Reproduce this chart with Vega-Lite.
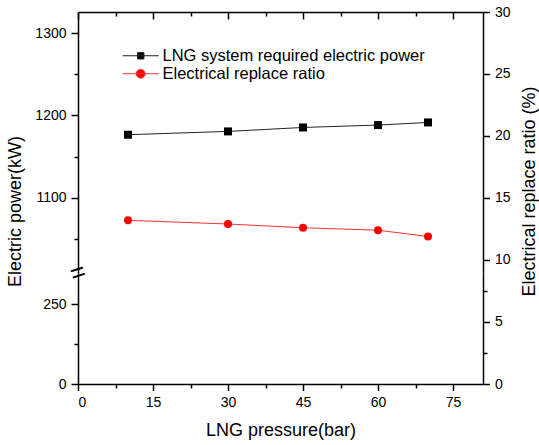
{
  "$schema": "https://vega.github.io/schema/vega-lite/v6.json",
  "autosize": {"type": "pad"},
  "padding": {"left": 6, "top": 5, "right": 4, "bottom": 4},
  "background": "white",
  "bounds": "flush",
  "config": {
    "view": {"stroke": null},
    "font": "Liberation Sans",
    "axis": {
      "domainColor": "black", "domainWidth": 1.5, "tickColor": "black", "tickWidth": 1.5,
      "labelFont": "Liberation Sans", "labelFontSize": 14, "labelColor": "black",
      "titleFont": "Liberation Sans", "titleFontSize": 18, "titleFontWeight": "normal", "titleColor": "black",
      "grid": false, "labelPadding": 5, "format": "d"
    },
    "legend": {
      "title": null, "orient": "none", "legendX": 54.5, "legendY": 35.5, "padding": 0,
      "labelFont": "Liberation Sans", "labelFontSize": 16.5, "labelColor": "black", "labelLimit": 500,
      "labelOffset": 13.5, "rowPadding": 1, "symbolSize": 64, "symbolStrokeWidth": 1, "symbolOpacity": 1
    }
  },
  "datasets": {
    "d": [
      {"pressure": 10, "series": "LNG system required electric power", "value": 1176.6},
      {"pressure": 30, "series": "LNG system required electric power", "value": 1180.6},
      {"pressure": 45, "series": "LNG system required electric power", "value": 1185.4},
      {"pressure": 60, "series": "LNG system required electric power", "value": 1188.3},
      {"pressure": 70, "series": "LNG system required electric power", "value": 1191.5},
      {"pressure": 10, "series": "Electrical replace ratio", "value": 13.2},
      {"pressure": 30, "series": "Electrical replace ratio", "value": 12.9},
      {"pressure": 45, "series": "Electrical replace ratio", "value": 12.6},
      {"pressure": 60, "series": "Electrical replace ratio", "value": 12.4},
      {"pressure": 70, "series": "Electrical replace ratio", "value": 11.9}
    ]
  },
  "spacing": 0,
  "resolve": {"legend": {"color": "independent", "shape": "independent", "stroke": "independent"}},
  "vconcat": [
    {
      "width": 405, "height": 261,
      "data": {"name": "d"},
      "layer": [
        {
          "layer": [
            {
              "transform": [{"filter": "datum.series === 'LNG system required electric power'"}],
              "mark": {"type": "line", "color": "#222222", "strokeWidth": 1},
              "encoding": {
                "x": {"field": "pressure", "type": "quantitative", "scale": {"domain": [0, 81], "nice": false, "zero": false},
                  "axis": {"orient": "top", "values": [0, 7.5, 15, 22.5, 30, 37.5, 45, 52.5, 60, 67.5, 75], "labels": false, "title": null,
                    "tickSize": {"condition": {"test": "datum.value % 15 === 0", "value": -7}, "value": -4}}},
                "y": {"field": "value", "type": "quantitative", "scale": {"domain": [1008.8, 1325.5], "nice": false, "zero": false},
                  "axis": {"orient": "left", "values": [1050, 1100, 1150, 1200, 1250, 1300],
                    "labelExpr": "datum.value % 100 === 0 ? datum.label : ''",
                    "tickSize": {"condition": {"test": "datum.value % 100 === 0", "value": 7}, "value": 4},
                    "title": "Electric power(kW)", "titlePadding": 10, "titleY": 199}}
              }
            },
            {
              "transform": [{"filter": "datum.series === 'LNG system required electric power'"}],
              "mark": {"type": "point", "shape": "square", "filled": true, "size": 64, "opacity": 1},
              "encoding": {
                "x": {"field": "pressure", "type": "quantitative"},
                "y": {"field": "value", "type": "quantitative"},
                "color": {"field": "series", "type": "nominal",
                  "scale": {"domain": ["LNG system required electric power", "Electrical replace ratio"], "range": ["black", "red"]}}
              }
            },
            {
              "mark": {"type": "point", "filled": true, "size": 64, "opacity": 0, "clip": true},
              "encoding": {
                "x": {"field": "pressure", "type": "quantitative"},
                "y": {"field": "value", "type": "quantitative"},
                "color": {"field": "series", "type": "nominal"},
                "stroke": {"field": "series", "type": "nominal",
                  "scale": {"domain": ["LNG system required electric power", "Electrical replace ratio"], "range": ["#222222", "#ff3030"]}},
                "shape": {"field": "series", "type": "nominal",
                  "scale": {"domain": ["LNG system required electric power", "Electrical replace ratio"],
                    "range": ["M-4.5,0H4.5M-0.8,-0.8H0.8V0.8H-0.8Z", "M-4.5,0H4.5M1.1,0A1.1,1.1,0,1,1,-1.1,0A1.1,1.1,0,1,1,1.1,0Z"]}}
              }
            },
            {
              "data": {"values": [{}]},
              "mark": {"type": "text", "text": "=", "font": "Liberation Sans", "fontSize": 26, "angle": -18, "align": "center", "baseline": "middle", "color": "black"},
              "encoding": {
                "x": {"datum": 0, "type": "quantitative"},
                "y": {"datum": 1008.8, "type": "quantitative"}
              }
            }
          ]
        },
        {
          "layer": [
            {
              "transform": [{"filter": "datum.series === 'Electrical replace ratio'"}],
              "mark": {"type": "line", "color": "#ff3030", "strokeWidth": 1},
              "encoding": {
                "x": {"field": "pressure", "type": "quantitative"},
                "y": {"field": "value", "type": "quantitative", "scale": {"domain": [8.95, 30], "nice": false, "zero": false},
                  "axis": {"orient": "right", "values": [10, 12.5, 15, 17.5, 20, 22.5, 25, 27.5, 30],
                    "labelExpr": "datum.value % 5 === 0 ? datum.label : ''",
                    "tickSize": {"condition": {"test": "datum.value % 5 === 0", "value": 6.5}, "value": 4},
                    "title": "Electrical replace ratio (%)", "titleAngle": 270, "titlePadding": 28, "titleY": 179}}
              }
            },
            {
              "transform": [{"filter": "datum.series === 'Electrical replace ratio'"}],
              "mark": {"type": "point", "shape": "circle", "filled": true, "size": 64, "opacity": 1},
              "encoding": {
                "x": {"field": "pressure", "type": "quantitative"},
                "y": {"field": "value", "type": "quantitative"},
                "color": {"field": "series", "type": "nominal"}
              }
            }
          ]
        }
      ],
      "resolve": {"scale": {"y": "independent"}, "axis": {"y": "independent"}}
    },
    {
      "width": 405, "height": 111,
      "data": {"name": "d"},
      "layer": [
        {
          "transform": [{"filter": "datum.series === 'LNG system required electric power'"}],
          "mark": {"type": "point", "clip": true, "opacity": 0},
          "encoding": {
            "x": {"field": "pressure", "type": "quantitative", "scale": {"domain": [0, 81], "nice": false, "zero": false},
              "axis": {"orient": "bottom", "values": [0, 7.5, 15, 22.5, 30, 37.5, 45, 52.5, 60, 67.5, 75],
                "labelExpr": "datum.value % 15 === 0 ? datum.label : ''",
                "tickSize": {"condition": {"test": "datum.value % 15 === 0", "value": 6.5}, "value": 4},
                "title": "LNG pressure(bar)", "titlePadding": 12}},
            "y": {"field": "value", "type": "quantitative", "scale": {"domain": [0, 347], "nice": false, "zero": false},
              "axis": {"orient": "left", "values": [0, 125, 250],
                "labelExpr": "datum.value % 250 === 0 ? datum.label : ''",
                "tickSize": {"condition": {"test": "datum.value % 250 === 0", "value": 7}, "value": 4},
                "title": null}}
          }
        },
        {
          "transform": [{"filter": "datum.series === 'Electrical replace ratio'"}],
          "mark": {"type": "point", "clip": true, "opacity": 0},
          "encoding": {
            "x": {"field": "pressure", "type": "quantitative"},
            "y": {"field": "value", "type": "quantitative", "scale": {"domain": [0, 8.95], "nice": false, "zero": false},
              "axis": {"orient": "right", "values": [0, 2.5, 5, 7.5],
                "labelExpr": "datum.value % 5 === 0 ? datum.label : ''",
                "tickSize": {"condition": {"test": "datum.value % 5 === 0", "value": 6.5}, "value": 4},
                "title": null}}
          }
        }
      ],
      "resolve": {"scale": {"y": "independent"}, "axis": {"y": "independent"}}
    }
  ]
}
